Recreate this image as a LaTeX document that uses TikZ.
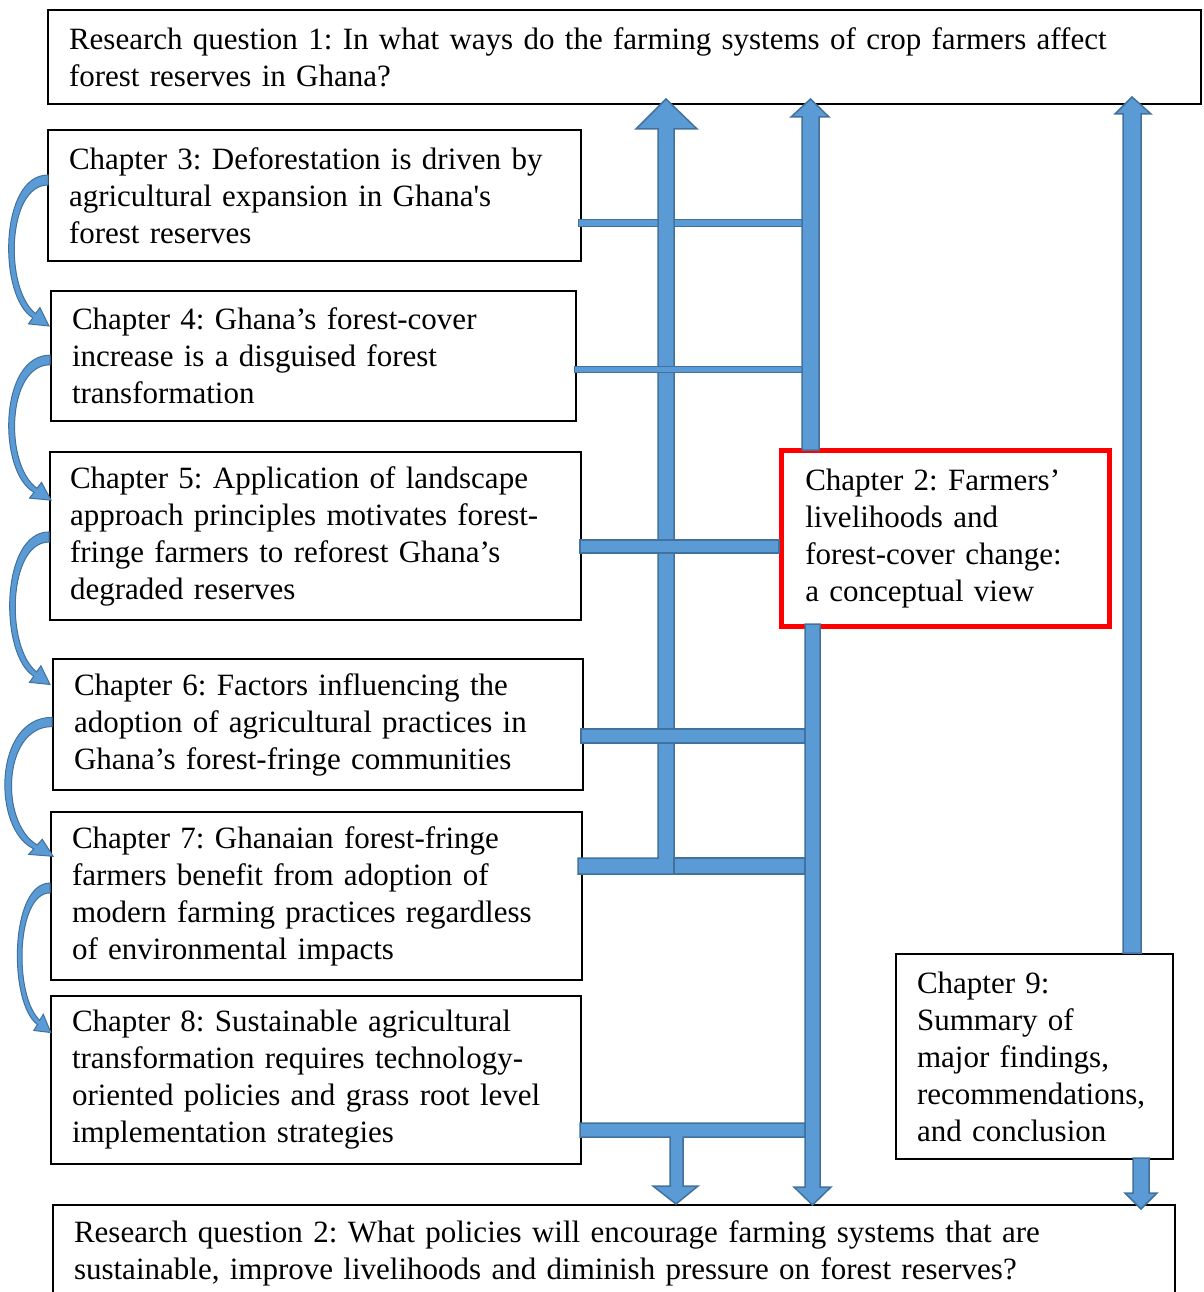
\documentclass[tikz,border=0pt]{standalone}
\usepackage{fontspec}
\setmainfont{Liberation Serif}
\newfontface\plainquote{Liberation Serif}[Ligatures=TeXOff]
\usetikzlibrary{calc}
\definecolor{arrowfill}{HTML}{5B9BD5}
\definecolor{arrowline}{HTML}{41719C}
\begin{document}
\frenchspacing
\begin{tikzpicture}[x=1pt,y=-1pt,
  box/.style={draw=black, line width=2pt, anchor=north west, inner xsep=21pt,
    inner ysep=0pt, align=left, font=\fontsize{31}{37}\selectfont},
  redbox/.style={box, draw=red, line width=4.5pt, inner xsep=24pt},
  flow/.style={fill=arrowfill, draw=arrowline, line width=1.5pt, line join=miter},
  pics/bend arrow/.style={code={
    \filldraw[fill=arrowfill, draw=arrowline, line width=1pt]
      (0,-5) .. controls (-49,-5) and (-50,117) .. (-15.2,137.8)
      -- (-19.5,143.9) -- (1,146) -- (-8.1,127.5) -- (-12.4,133.6)
      .. controls (-44,109) and (-41,5) .. (0,5) -- cycle;
  }},
]
\clip (0,0) rectangle (1203,1292);

% question and chapter boxes
\node[box, minimum width=1153pt, minimum height=94pt, text width=1111pt] (rq1) at (47,9)
  {Research question 1: In what ways do the farming systems of crop farmers affect\\forest reserves in Ghana?};
\node[box, minimum width=533pt, minimum height=131pt, text width=491pt] (ch3) at (47,129)
  {Chapter 3: Deforestation is driven by\\agricultural expansion in Ghana{\plainquote'}s\\forest reserves};
\node[box, minimum width=525pt, minimum height=130pt, text width=483pt] (ch4) at (50,290)
  {Chapter 4: Ghana’s forest-cover\\increase is a disguised forest\\transformation};
\node[box, minimum width=531pt, minimum height=168pt, text width=491pt, inner xsep=20pt] (ch5) at (49,451)
  {Chapter 5: Application of landscape\\approach principles motivates forest-\\fringe farmers to reforest Ghana’s\\degraded reserves};
\node[box, minimum width=530pt, minimum height=131pt, text width=488pt] (ch6) at (52,658)
  {Chapter 6: Factors influencing the\\adoption of agricultural practices in\\Ghana’s forest-fringe communities};
\node[box, minimum width=531pt, minimum height=168pt, text width=489pt] (ch7) at (50,811)
  {Chapter 7: Ghanaian forest-fringe\\farmers benefit from adoption of\\modern farming practices regardless\\of environmental impacts};
\node[box, minimum width=530pt, minimum height=168pt, text width=488pt] (ch8) at (50,995)
  {Chapter 8: Sustainable agricultural\\transformation requires technology-\\oriented policies and grass root level\\implementation strategies};
\node[redbox, minimum width=328pt, minimum height=176pt, text width=280pt] (ch2) at (779,448)
  {Chapter 2: Farmers’\\livelihoods and\\forest-cover change:\\a conceptual view};
\node[box, minimum width=277pt, minimum height=205pt, text width=235pt] (ch9) at (895,953)
  {Chapter 9:\\Summary of\\major findings,\\recommendations,\\and conclusion};
\node[box, minimum width=1122pt, minimum height=96pt, text width=1080pt] (rq2) at (52,1204)
  {Research question 2: What policies will encourage farming systems that are\\sustainable, improve livelihoods and diminish pressure on forest reserves?};

% link from chapter 3 (passes under the left riser)
\filldraw[flow, line width=1pt] (578,219) rectangle (802,226);

% left riser: chapter 7 up to question 1
\filldraw[flow] (578,858) -- (658,858) -- (658,129) -- (636,129) -- (666,99)
  -- (697,129) -- (674,129) -- (674,874) -- (578,874) -- cycle;

% links from chapters 4, 5, 6, 7
\filldraw[flow, line width=1pt] (574,366) rectangle (802,372);
\filldraw[flow] (580,540) rectangle (779,553);
\filldraw[flow] (581,729) rectangle (805,743);
\filldraw[flow] (674,858) rectangle (805,874);

% chapter 8 link with its drop to question 2
\filldraw[flow] (580,1123) -- (805,1123) -- (805,1137) -- (683,1137) -- (683,1186)
  -- (698,1186) -- (676,1204) -- (653,1186) -- (670,1186) -- (670,1137)
  -- (580,1137) -- cycle;

% central spine: chapter 2 up to question 1, down to question 2
\filldraw[flow] (802,450) -- (802,117) -- (791,117) -- (810.5,99) -- (829,117)
  -- (819,117) -- (819,450) -- cycle;
\filldraw[flow] (805,624) -- (805,1187) -- (794,1187) -- (812.5,1205) -- (831,1187)
  -- (820,1187) -- (820,624) -- cycle;

% right riser: chapter 9 up to question 1, down to question 2
\filldraw[flow] (1123,953) -- (1123,114) -- (1115,114) -- (1132,97) -- (1151,114)
  -- (1141,114) -- (1141,953) -- cycle;
\filldraw[flow] (1133,1158) -- (1133,1193) -- (1125,1193) -- (1141,1209) -- (1157,1193)
  -- (1149,1193) -- (1149,1158) -- cycle;

% chapter-to-chapter sequence arrows on the left
\pic at ($(ch3.north west)+(1,51)$) {bend arrow};
\pic[xscale=1.05, yscale=0.96] at ($(ch4.north west)+(0,70)$) {bend arrow};
\pic[xscale=1.0, yscale=1.01] at ($(ch5.north west)+(0,86)$) {bend arrow};
\pic[xscale=1.2, yscale=0.92] at ($(ch6.north west)+(0,64)$) {bend arrow};
\pic[xscale=0.83, yscale=0.99] at ($(ch7.north west)+(0,77)$) {bend arrow};
\end{tikzpicture}
\end{document}
